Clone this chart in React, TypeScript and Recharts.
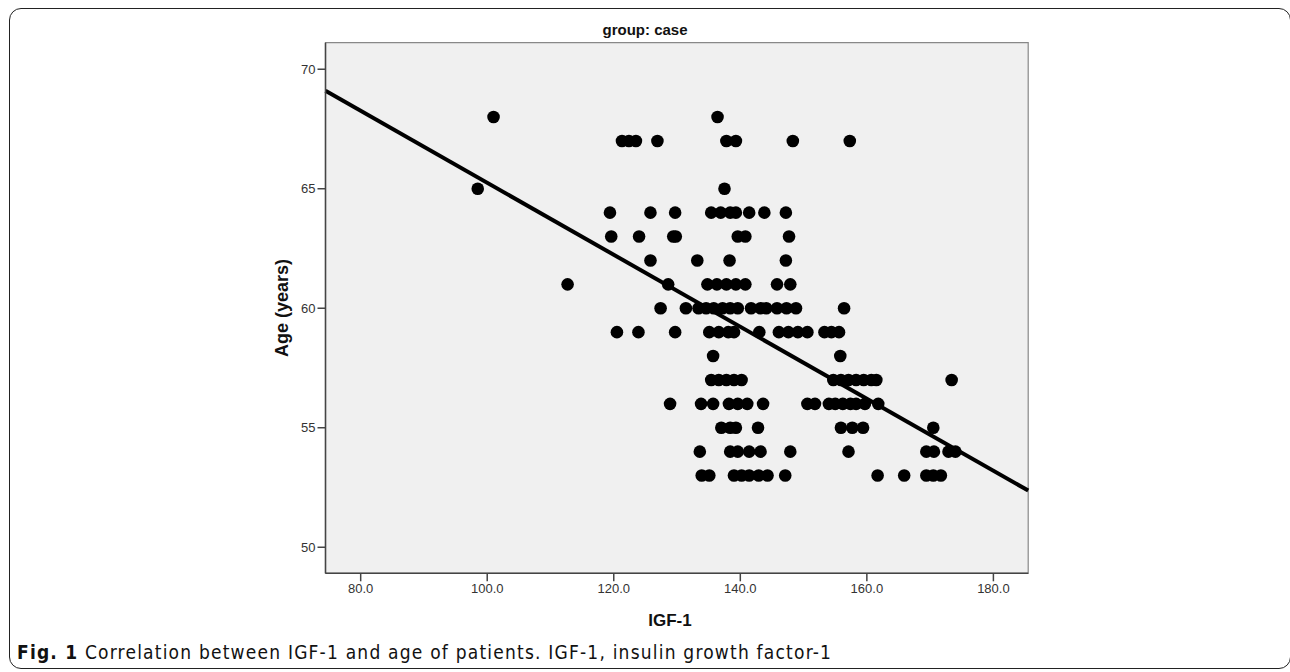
import React from 'react';
import { ScatterChart, Scatter, XAxis, YAxis, ReferenceArea, ReferenceLine } from 'recharts';

// IGF-1 values, one list per age row
const IGF_68 = [101.0, 136.4];
const IGF_67 = [121.3, 122.4, 123.5, 126.9, 137.8, 139.3, 148.3, 157.3];
const IGF_65 = [98.5, 137.5];
const IGF_64 = [119.4, 125.8, 129.7, 135.4, 136.9, 138.4, 139.3, 141.4, 143.8, 147.2];
const IGF_63 = [119.6, 124.0, 129.4, 129.8, 139.6, 140.8, 147.7];
const IGF_62 = [125.8, 133.2, 138.3, 147.2];
const IGF_61 = [112.7, 128.6, 134.8, 136.3, 137.8, 139.3, 140.8, 145.8, 147.9];
const IGF_60 = [127.4, 131.4, 133.4, 134.6, 135.8, 137.2, 138.4, 139.6, 141.7, 143.2, 144.1, 145.8, 147.3, 148.8, 156.4];
const IGF_59 = [120.5, 123.9, 129.7, 135.1, 136.6, 138.1, 139.0, 143.0, 146.1, 147.6, 149.1, 150.6, 153.3, 154.4, 155.6];
const IGF_58 = [135.7, 155.8];
const IGF_57 = [135.4, 136.6, 137.8, 139.0, 140.2, 154.7, 155.9, 157.1, 158.3, 159.5, 160.7, 161.5, 173.4];
const IGF_56 = [128.9, 133.8, 135.7, 138.2, 139.6, 141.1, 143.6, 150.6, 151.8, 154.0, 155.0, 156.2, 157.4, 158.3, 159.7, 161.8];
const IGF_55 = [137.0, 138.4, 139.3, 142.8, 155.9, 157.7, 159.4, 170.5];
const IGF_54 = [133.6, 138.4, 139.6, 141.4, 143.2, 147.9, 157.1, 169.4, 170.6, 172.9, 174.0];
const IGF_53 = [133.9, 135.1, 139.0, 140.2, 141.4, 142.9, 144.3, 147.1, 161.7, 165.9, 169.4, 170.5, 171.7];

const AGES = [68, 67, 65, 64, 63, 62, 61, 60, 59, 58, 57, 56, 55, 54, 53];
const IGF_ROWS = [IGF_68, IGF_67, IGF_65, IGF_64, IGF_63, IGF_62, IGF_61, IGF_60, IGF_59, IGF_58, IGF_57, IGF_56, IGF_55, IGF_54, IGF_53];

// fit line end points (IGF-1, age)
const FIT_X = [74.44, 185.5];
const FIT_Y = [69.1, 52.37];

const X_TICKS = [80, 100, 120, 140, 160, 180];
const Y_TICKS = [50, 55, 60, 65, 70];
const X_DOMAIN = [74.44, 185.5];
const Y_DOMAIN = [48.91, 71.11];

const points = AGES.flatMap((age, i) => IGF_ROWS[i].map((igf) => ({ igf, age })));

const FONT = '"Liberation Sans", Arial, sans-serif';
const CAPTION_FONT = '"Liberation Sans Narrow", "DejaVu Sans Condensed", sans-serif';

const Dot = (props: any) => <circle cx={props.cx} cy={props.cy} r={6.3} fill="#000" />;

export default function App() {
  return (
    <div style={{ position: 'relative', width: 1290, height: 672, background: '#fff', overflow: 'hidden' }}>
      <style>{'body{margin:0}'}</style>
      <div
        style={{
          position: 'absolute',
          left: 9,
          top: 8,
          width: 1282,
          height: 661,
          border: '1.5px solid #222',
          borderRadius: 12,
          boxSizing: 'border-box',
        }}
      />
      <div style={{ position: 'absolute', left: 0, top: 0 }}>
        <ScatterChart
          width={1290}
          height={672}
          margin={{ top: 42.7, right: 261.8, bottom: 38.7, left: 265.5 }}
        >
          <XAxis
            type="number"
            dataKey="igf"
            domain={X_DOMAIN}
            ticks={X_TICKS}
            allowDataOverflow
            height={60}
            tickFormatter={(v: number) => v.toFixed(1)}
            stroke="#444"
            strokeWidth={1.5}
            tickSize={8}
            tick={{ fill: '#333', fontSize: 13, fontFamily: FONT }}
          />
          <YAxis
            type="number"
            dataKey="age"
            domain={Y_DOMAIN}
            ticks={Y_TICKS}
            allowDataOverflow
            width={60}
            stroke="#444"
            strokeWidth={1.5}
            tickSize={8}
            tick={{ fill: '#333', fontSize: 13, fontFamily: FONT }}
          />
          <ReferenceArea
            x1={X_DOMAIN[0]}
            x2={X_DOMAIN[1]}
            y1={Y_DOMAIN[0]}
            y2={Y_DOMAIN[1]}
            fill="#f0f0f0"
            fillOpacity={1}
            stroke="#888"
            strokeWidth={1.2}
          />
          <Scatter data={points} shape={Dot} isAnimationActive={false} />
          <ReferenceLine
            segment={[
              { x: FIT_X[0], y: FIT_Y[0] },
              { x: FIT_X[1], y: FIT_Y[1] },
            ]}
            stroke="#000"
            strokeWidth={4}
            ifOverflow="visible"
          />
        </ScatterChart>
      </div>
      <div
        style={{
          position: 'absolute',
          left: 645,
          top: 29,
          transform: 'translate(-50%, -50%)',
          fontFamily: FONT,
          fontWeight: 'bold',
          fontSize: 15,
          color: '#111',
          whiteSpace: 'nowrap',
        }}
      >
        group: case
      </div>
      <div
        style={{
          position: 'absolute',
          left: 282,
          top: 308,
          transform: 'translate(-50%, -50%) rotate(-90deg)',
          fontFamily: FONT,
          fontWeight: 'bold',
          fontSize: 18,
          color: '#111',
          whiteSpace: 'nowrap',
        }}
      >
        Age (years)
      </div>
      <div
        style={{
          position: 'absolute',
          left: 670,
          top: 621,
          transform: 'translate(-50%, -50%)',
          fontFamily: FONT,
          fontWeight: 'bold',
          fontSize: 17,
          lineHeight: '20px',
          color: '#111',
          whiteSpace: 'nowrap',
        }}
      >
        IGF-1
      </div>
      <div
        style={{
          position: 'absolute',
          left: 17,
          top: 652,
          transform: 'translateY(-50%)',
          fontFamily: CAPTION_FONT,
          fontStretch: 'condensed',
          fontSize: 19,
          lineHeight: '20px',
          letterSpacing: 1.2,
          color: '#111',
          whiteSpace: 'nowrap',
        }}
      >
        <b>Fig. 1</b> Correlation between IGF-1 and age of patients. IGF-1, insulin growth factor-1
      </div>
    </div>
  );
}
